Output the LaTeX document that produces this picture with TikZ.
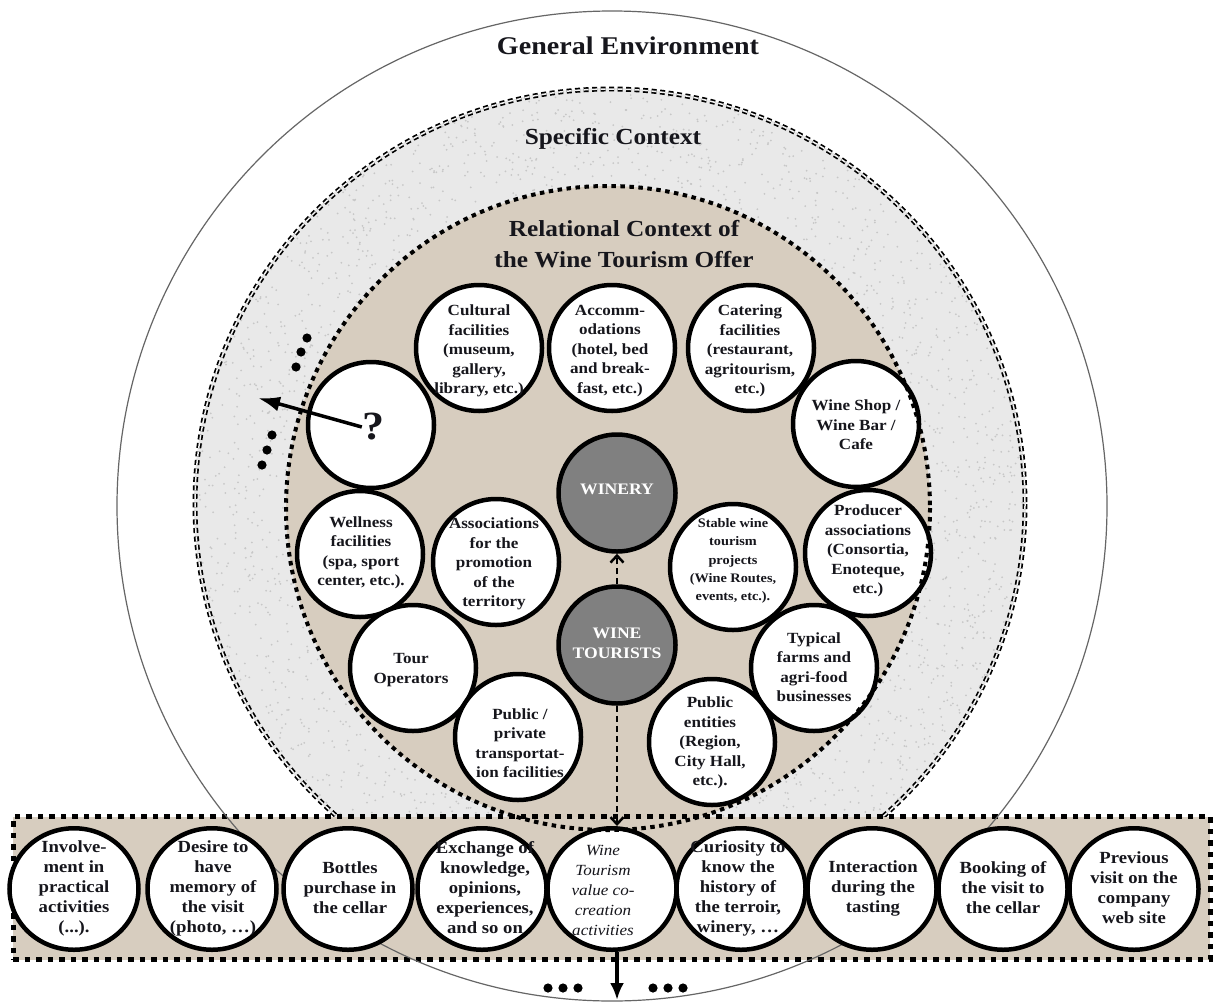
\documentclass[tikz,border=0pt]{standalone}
\usepackage{fontspec}
\setmainfont{Liberation Serif}[FakeStretch=1.1]
\usetikzlibrary{arrows.meta,shapes.geometric}

\definecolor{tanbg}{RGB}{215,205,191}
\definecolor{specbg}{RGB}{233,233,233}
\definecolor{coregray}{RGB}{128,128,128}
\definecolor{inkc}{RGB}{22,22,28}

\begin{document}
\begin{tikzpicture}[x=1pt,y=-1pt,
  hd/.style={font=\bfseries\fontsize{23}{31}\selectfont, align=center, text=inkc, inner sep=0pt},
  ring/.style={circle, draw=black, line width=4.5pt, fill=white, minimum size=126pt, inner sep=0pt},
  rtxt/.style={font=\bfseries\fontsize{15.5}{19.5}\selectfont, align=center, text=inkc, inner sep=0pt},
  stxt/.style={font=\bfseries\fontsize{13}{18.3}\selectfont, align=center, text=inkc, inner sep=0pt},
  core/.style={circle, draw=black, line width=4.5pt, fill=coregray, minimum size=117pt, inner sep=0pt},
  ctxt/.style={font=\bfseries\fontsize{16}{20}\selectfont, align=center, text=white, inner sep=0pt},
  act/.style={ellipse, draw=black, line width=4.5pt, fill=white, minimum width=129pt, minimum height=121.5pt, inner sep=0pt},
  atxt/.style={font=\bfseries\fontsize{17}{20}\selectfont, align=center, text=inkc, inner sep=0pt},
  itxt/.style={font=\itshape\fontsize{15.5}{20}\selectfont, align=center, text=inkc, inner sep=0pt},
  qtxt/.style={font=\bfseries\fontsize{40}{40}\selectfont, text=inkc, inner sep=0pt},
  band/.style={rectangle, fill=tanbg, draw=black, line width=5pt, dash pattern=on 5.5pt off 6pt, minimum width=1197pt, minimum height=143pt, inner sep=0pt},
  dasharr/.style={line width=2.5pt, dash pattern=on 6pt off 4pt, -{Straight Barb[length=7pt,width=13pt]}},
  solidarr/.style={line width=4pt, -{Latex[length=17pt,width=14pt]}},
  qarr/.style={line width=3.5pt, -{Latex[length=22pt,width=15pt]}},
  dotmark/.style={fill=black}
]
\useasboundingbox (0,0) rectangle (1215,1001);
\fill[white] (0,0) rectangle (1215,1001);

% Specific context ring
\fill[specbg] (610,504) circle[radius=416];
\pgfmathsetseed{42}
\foreach \k in {1,...,1800}{
  \pgfmathsetmacro{\ang}{rnd*360}
  \pgfmathsetmacro{\rr}{100*sqrt(10.4+rnd*6.8)}
  \fill[black!22,shift={(610,504)}] (\ang:\rr) circle[radius=1];
}
\draw[draw=black, line width=1.7pt, double=specbg!50!white, double distance=1.5pt, dash pattern=on 5pt off 3.5pt] (610,504) circle[radius=415];

% Relational context fill
\fill[tanbg] (608,508) circle[radius=322];

% Band of activities
\node[band] (band) at (611.5,888) {};

% General environment outline
\draw[black!60, line width=1.2pt] (612,506) circle[radius=495];

% Activities
\node[act] (a1) at (74,889) {};
\node[atxt] (a1t) at (74,888) {Involve-\\ment in\\practical\\activities\\(...).};
\node[act] (a2) at (212,889) {};
\node[atxt] (a2t) at (213,888) {Desire to\\have\\memory of\\the visit\\(photo, \dots)};
\node[act] (a3) at (348,889) {};
\node[atxt] (a3t) at (350,888) {Bottles\\purchase in\\the cellar};
\node[act] (a4) at (482,889) {};
\node[atxt] (a4t) at (485,888) {Exchange of\\knowledge,\\opinions,\\experiences,\\and so on};
\node[act] (a5) at (612,889) {};
\node[itxt] (a5t) at (603,890) {Wine\\Tourism\\value co-\\creation\\activities};
\node[act] (a6) at (741,889) {};
\node[atxt] (a6t) at (738,888) {Curiosity to\\know the\\history of\\the terroir,\\winery, \dots};
\node[act] (a7) at (872,889) {};
\node[atxt] (a7t) at (873,888) {Interaction\\during the\\tasting};
\node[act] (a8) at (1003,889) {};
\node[atxt] (a8t) at (1003,888) {Booking of\\the visit to\\the cellar};
\node[act] (a9) at (1134,889) {};
\node[atxt] (a9t) at (1134,888) {Previous\\visit on the\\company\\web site};

% Ring of actors
\node[ring] (cult) at (479,348) {};
\node[rtxt] (cultT) at (479,351) {Cultural\\facilities\\(museum,\\gallery,\\library, etc.)};
\node[ring] (acc) at (612,348) {};
\node[rtxt] (accT) at (610,351) {Accomm-\\odations\\(hotel, bed\\and break-\\fast, etc.)};
\node[ring] (cat) at (751,348) {};
\node[rtxt] (catT) at (750,351) {Catering\\facilities\\(restaurant,\\agritourism,\\etc.)};
\node[ring] (shop) at (856,424) {};
\node[rtxt] (shopT) at (856,425) {Wine Shop /\\Wine Bar /\\Cafe};
\node[ring] (prod) at (868,553) {};
\node[rtxt] (prodT) at (868,551) {Producer\\associations\\(Consortia,\\Enoteque,\\etc.)};
\node[ring] (farm) at (814,668) {};
\node[rtxt] (farmT) at (814,667) {Typical\\farms and\\agri-food\\businesses};
\node[ring] (pubent) at (712,742) {};
\node[rtxt] (pubentT) at (710,743) {Public\\entities\\(Region,\\City Hall,\\etc.).};
\node[ring] (stable) at (733,567) {};
\node[stxt] (stableT) at (733,561) {Stable wine\\tourism\\projects\\(Wine Routes,\\events, etc.).};
\node[ring] (assoc) at (496,562) {};
\node[rtxt] (assocT) at (494,564) {Associations\\for the\\promotion\\of the\\territory};
\node[ring] (well) at (360,554) {};
\node[rtxt] (wellT) at (361,553) {Wellness\\facilities\\(spa, sport\\center, etc.).};
\node[ring] (tourop) at (413,668) {};
\node[rtxt] (touropT) at (411,670) {Tour\\Operators};
\node[ring] (trans) at (518,737) {};
\node[rtxt] (transT) at (520,743) {Public /\\private\\transportat-\\ion facilities};
\node[ring] (qc) at (371,425) {};
\node[qtxt] (qt) at (373,427) {?};

% Core
\node[core] (winery) at (617,493) {};
\node[ctxt] (wineryT) at (617,489) {WINERY};
\node[core] (tourists) at (617,645) {};
\node[ctxt] (touristsT) at (617,643) {WINE\\TOURISTS};

% Relational context outline (on top)
\draw[black, line width=4pt, dash pattern=on 4.5pt off 4.5pt] (608,508) circle[radius=322];

% Headings
\node[hd, font=\bfseries\fontsize{25.5}{30}\selectfont] (genenv) at (628,46) {General Environment};
\node[hd] (specT) at (613,139) {Specific Context};
\node[hd] (relT) at (624,244) {Relational Context of\\the Wine Tourism Offer};

% Connectors
\draw[dasharr] (tourists.north) -- (winery.south);
\draw[dasharr] (tourists.south) -- (tourists.south |- a5.north);
\coordinate (bend) at (617,1000);
\draw[solidarr] (bend |- a5.south) -- (bend);
\coordinate (qend) at (258,398);
\draw[qarr] (qt.west) -- (qend);

% Ellipsis dots
\foreach \p in {(307,338),(301,352),(296,367),(272,435),(267,450),(262,465)}
  \fill[dotmark] \p circle[radius=4.6];
\foreach \p in {(548,988),(563,988),(578,988),(653,988),(668,988),(683,988)}
  \fill[dotmark] \p circle[radius=4.6];
\end{tikzpicture}
\end{document}
